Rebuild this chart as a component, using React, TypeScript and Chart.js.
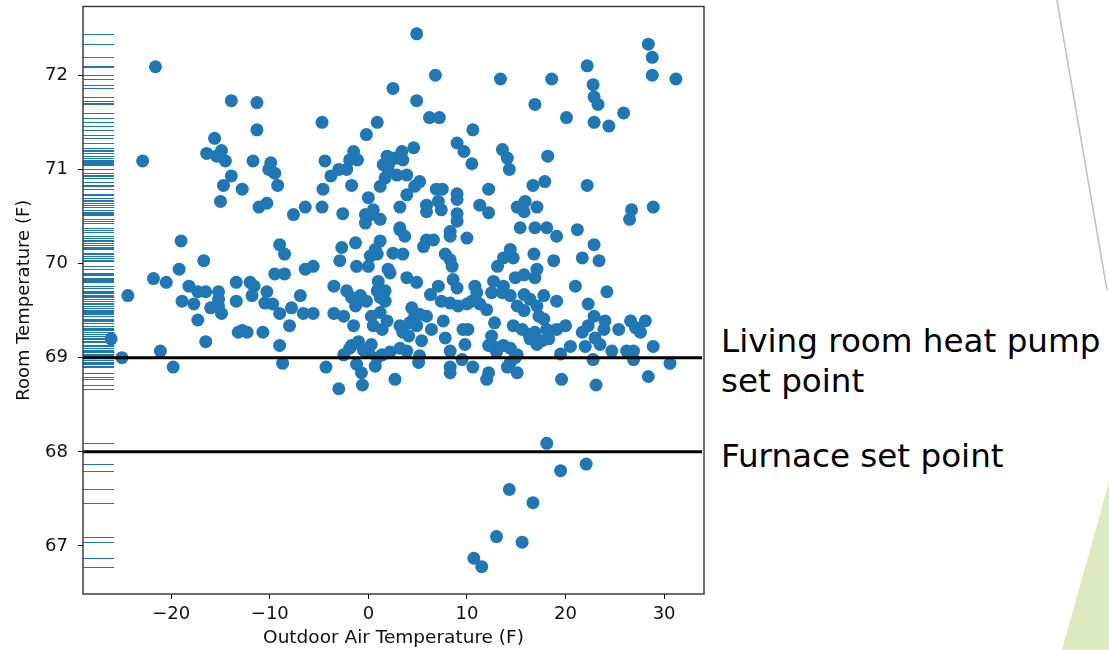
import React, { useEffect, useRef } from "react";
import { Chart, registerables } from "chart.js";

Chart.register(...registerables);

// ---------- data ----------
const X_TITLE = "Outdoor Air Temperature (F)";
const Y_TITLE = "Room Temperature (F)";
const X_TICKS = [-20, -10, 0, 10, 20, 30];
const Y_TICKS = [67, 68, 69, 70, 71, 72];
const X_LIMITS = [-28.95, 34.05];
const Y_LIMITS = [66.49, 72.73];
const SET_POINTS = [69, 68];
const SET_POINT_LABELS = [["Living room heat pump", "set point"], ["Furnace set point"]];

// [outdoor air temperature, room temperature]
const READINGS_COLD: number[][] = [
  [-26.1, 69.2], [-25.0, 69.0], [-24.4, 69.66], [-22.9, 71.09], [-21.6, 72.09], [-21.8, 69.84], [-21.1, 69.07], [-20.5, 69.8], [-19.8, 68.9], [-19.0, 70.24],
  [-19.2, 69.94], [-18.2, 69.76], [-18.9, 69.6], [-17.7, 69.57], [-17.3, 69.7], [-16.5, 69.7], [-15.2, 69.7], [-15.2, 69.62], [-15.2, 69.55], [-16.0, 69.53],
  [-14.9, 69.47], [-17.3, 69.4], [-16.7, 70.03], [-16.5, 69.17], [-13.4, 69.8], [-13.4, 69.6], [-12.0, 69.8], [-11.6, 69.76], [-11.8, 69.66], [-10.3, 69.7],
  [-10.5, 69.58], [-9.7, 69.57], [-9.0, 69.47], [-9.0, 70.2], [-8.5, 70.1], [-9.5, 69.89], [-8.5, 69.89], [-7.8, 69.53], [-8.0, 69.34], [-9.0, 69.13],
  [-8.7, 68.94], [-13.2, 69.27], [-12.8, 69.29], [-12.3, 69.27], [-10.7, 69.27], [-13.9, 71.73], [-11.3, 71.71], [-11.3, 71.42], [-15.6, 71.33], [-16.4, 71.17],
  [-14.9, 71.2], [-15.4, 71.14], [-14.5, 71.09], [-11.7, 71.09], [-9.9, 71.07], [-10.1, 71.0], [-9.5, 70.96], [-13.9, 70.93], [-14.7, 70.83], [-12.8, 70.79],
  [-9.2, 70.83], [-15.0, 70.66], [-11.1, 70.6], [-10.3, 70.64], [-7.6, 70.52],
];

const READINGS_MILD: number[][] = [
  [-6.4, 70.6], [-4.7, 70.6], [-4.7, 71.5], [-4.4, 71.09], [-4.6, 70.79], [-3.8, 70.93], [-3.0, 71.0], [-2.2, 71.0], [-1.7, 70.83], [-2.6, 70.53],
  [-1.5, 71.19], [-1.1, 71.1], [-1.9, 71.1], [-0.2, 71.37], [-0.3, 70.52], [-0.3, 70.43], [0.0, 70.7], [4.9, 72.44], [6.8, 72.0], [2.5, 71.86],
  [4.9, 71.73], [6.2, 71.55], [7.2, 71.55], [10.6, 71.42], [0.9, 71.5], [4.6, 71.23], [9.0, 71.28], [9.7, 71.19], [10.5, 71.06], [1.9, 71.14],
  [1.5, 71.05], [2.2, 71.08], [2.7, 71.12], [3.4, 71.19], [3.5, 71.1], [2.0, 71.0], [2.9, 70.94], [1.7, 70.91], [3.9, 70.94], [1.2, 70.82],
  [0.5, 70.57], [1.2, 70.47], [3.2, 70.6], [3.9, 70.73], [4.7, 70.82], [5.2, 70.87], [3.2, 70.38], [0.3, 70.52], [6.9, 70.79], [7.5, 70.79],
  [7.1, 70.66], [7.4, 70.57], [5.9, 70.62], [5.9, 70.55], [9.0, 70.74], [9.0, 70.68], [9.0, 70.53], [9.0, 70.45], [8.3, 70.34], [12.2, 70.79],
  [11.3, 70.62], [12.2, 70.54], [-1.3, 70.22], [-2.7, 70.17], [-2.9, 70.03], [1.2, 70.24], [0.7, 70.15], [0.2, 70.08], [0.9, 70.1], [2.5, 70.11],
  [3.5, 70.1], [3.2, 70.36], [3.7, 70.29], [5.9, 70.25], [6.6, 70.25], [5.6, 70.18], [8.3, 70.29], [10.0, 70.27], [7.8, 70.1], [8.3, 70.04],
  [8.5, 69.97], [-1.2, 69.97], [0.0, 69.97], [2.0, 69.94], [2.2, 69.9], [3.9, 69.85], [4.9, 69.8], [-6.4, 69.94], [-5.6, 69.97], [-3.5, 69.76],
  [-6.9, 69.66], [-6.6, 69.47], [-5.6, 69.47], [-2.2, 69.71], [-1.7, 69.64], [-0.8, 69.66], [-1.3, 69.55], [-0.2, 69.6], [-3.5, 69.47], [-2.5, 69.44],
  [-1.5, 69.34], [1.0, 69.81], [0.9, 69.71], [1.7, 69.71], [1.7, 69.6], [1.2, 69.64], [0.3, 69.44], [1.2, 69.48], [1.9, 69.39], [0.5, 69.34],
  [1.4, 69.3], [3.2, 69.34], [3.5, 69.27], [4.2, 69.37], [4.1, 69.23], [4.9, 69.34], [5.4, 69.18], [4.4, 69.53], [5.2, 69.46], [5.9, 69.44],
  [4.7, 69.44], [6.4, 69.3], [6.3, 69.67], [7.1, 69.76], [7.4, 69.6], [7.6, 69.39], [7.8, 69.21], [8.3, 69.07], [8.6, 69.83], [9.0, 69.74],
  [8.3, 69.58], [9.1, 69.55], [10.0, 69.57], [9.6, 69.3], [10.1, 69.3], [9.8, 69.14], [10.8, 69.76], [11.0, 69.69], [10.5, 69.6], [11.3, 69.57],
  [12.0, 69.51], [12.7, 69.81], [12.5, 69.69], [12.8, 69.37], [12.5, 69.23], [12.2, 69.13], [13.1, 69.97], [-4.3, 68.9], [-3.0, 68.67], [-2.5, 69.03],
  [-1.7, 69.13], [-1.0, 69.17], [-0.5, 69.08], [-1.2, 68.93], [-0.7, 68.84], [-0.6, 68.71], [0.7, 68.91], [0.9, 69.0], [1.4, 69.03], [2.2, 69.06],
  [0.0, 69.07], [0.3, 69.14], [2.7, 68.77], [5.1, 68.95], [5.2, 69.02], [3.2, 69.1], [3.9, 69.07], [8.3, 68.9], [8.3, 68.84], [9.5, 68.98],
  [10.6, 68.9], [12.2, 68.84], [12.0, 68.77], [12.7, 69.12], [-1.9, 69.1],
];

const READINGS_WARM: number[][] = [
  [13.4, 71.96], [13.6, 71.21], [18.6, 71.96], [22.2, 72.1], [22.8, 71.9], [22.9, 71.77], [23.3, 71.69], [28.4, 72.33], [28.8, 72.19], [28.8, 72.0],
  [31.2, 71.96], [16.9, 71.69], [20.1, 71.55], [22.9, 71.5], [24.4, 71.46], [25.9, 71.6], [14.1, 71.12], [14.3, 71.0], [18.2, 71.14], [16.7, 70.83],
  [17.9, 70.87], [22.2, 70.83], [15.1, 70.6], [15.9, 70.66], [15.8, 70.55], [17.1, 70.6], [26.7, 70.57], [26.5, 70.47], [28.9, 70.6], [15.4, 70.38],
  [16.9, 70.38], [18.1, 70.38], [21.2, 70.36], [19.1, 70.29], [22.9, 70.2], [14.4, 70.15], [13.7, 70.06], [14.7, 70.06], [16.8, 70.1], [18.8, 70.03],
  [21.7, 70.06], [23.4, 70.03], [17.1, 69.94], [16.9, 69.85], [15.8, 69.88], [14.9, 69.85], [13.7, 69.76], [13.6, 69.69], [14.4, 69.66], [15.8, 69.67],
  [16.4, 69.62], [17.8, 69.66], [21.0, 69.76], [24.2, 69.7], [19.1, 69.6], [15.1, 69.55], [15.8, 69.5], [17.1, 69.55], [17.3, 69.44], [17.8, 69.41],
  [14.7, 69.34], [15.6, 69.3], [16.3, 69.25], [16.9, 69.27], [18.1, 69.3], [18.3, 69.2], [17.6, 69.18], [20.0, 69.34], [19.1, 69.3], [22.3, 69.57],
  [22.9, 69.44], [24.0, 69.39], [21.7, 69.27], [22.3, 69.34], [23.9, 69.3], [23.0, 69.21], [23.5, 69.14], [25.4, 69.3], [26.6, 69.39], [28.1, 69.39],
  [27.1, 69.32], [27.6, 69.27], [28.9, 69.12], [20.5, 69.12], [22.0, 69.12], [24.7, 69.07], [26.2, 69.07], [26.9, 69.07], [26.9, 68.98], [22.8, 68.98],
  [19.5, 69.04], [30.6, 68.94], [28.4, 68.8], [19.6, 68.77], [23.1, 68.71], [13.0, 69.06], [13.7, 69.13], [14.4, 69.1], [15.1, 69.03], [14.4, 68.95],
  [14.1, 68.9], [15.1, 68.84], [14.9, 69.0], [17.1, 69.14], [16.4, 69.2], [18.1, 68.09], [19.5, 67.8], [22.1, 67.87], [14.3, 67.6], [16.7, 67.46],
  [13.0, 67.1], [15.6, 67.04], [10.7, 66.87], [11.5, 66.78],
];

// ---------- styles ----------
const BLUE = "#1f77b4";
const AXIS_FONT = "'DejaVu Sans', sans-serif";

const overlayPlugin = {
  id: "overlay",
  beforeDatasetsDraw(chart: any) {
    const { ctx, chartArea, scales } = chart;
    const pts = chart.data.datasets[0].data as { x: number; y: number }[];
    const len = (chartArea.right - chartArea.left) * 0.05;
    ctx.save();
    ctx.strokeStyle = BLUE;
    ctx.lineWidth = 1;
    for (const p of pts) {
      const py = Math.round(scales.y.getPixelForValue(p.y)) + 0.5;
      ctx.beginPath();
      ctx.moveTo(chartArea.left, py);
      ctx.lineTo(chartArea.left + len, py);
      ctx.stroke();
    }
    ctx.restore();
  },
  afterDatasetsDraw(chart: any) {
    const { ctx, chartArea, scales } = chart;
    ctx.save();
    ctx.strokeStyle = "#000";
    ctx.lineWidth = 3;
    for (const v of SET_POINTS) {
      const py = scales.y.getPixelForValue(v);
      ctx.beginPath();
      ctx.moveTo(chartArea.left, py);
      ctx.lineTo(chartArea.right - 2, py);
      ctx.stroke();
    }
    ctx.restore();
  },
  afterDraw(chart: any) {
    const { ctx, chartArea } = chart;
    ctx.save();
    ctx.strokeStyle = "#333";
    ctx.lineWidth = 1.4;
    ctx.strokeRect(chartArea.left, chartArea.top, chartArea.right - chartArea.left, chartArea.bottom - chartArea.top);
    ctx.restore();
  },
};

export default function App() {
  const ref = useRef<HTMLCanvasElement | null>(null);

  useEffect(() => {
    if (!ref.current) return;
    const all = [...READINGS_COLD, ...READINGS_MILD, ...READINGS_WARM];
    const chart = new Chart(ref.current, {
      type: "scatter",
      data: {
        datasets: [
          {
            data: all.map(([x, y]) => ({ x, y })),
            backgroundColor: BLUE,
            borderColor: BLUE,
            borderWidth: 0,
            pointRadius: 6.5,
            pointHoverRadius: 6.5,
          },
        ],
      },
      options: {
        animation: false,
        responsive: false,
        maintainAspectRatio: false,
        events: [],
        layout: { padding: { top: 5, right: 16, left: 0, bottom: 0 } },
        plugins: { legend: { display: false }, tooltip: { enabled: false } },
        scales: {
          x: {
            type: "linear",
            min: X_LIMITS[0],
            max: X_LIMITS[1],
            afterBuildTicks: (s: any) => {
              s.ticks = X_TICKS.map((v) => ({ value: v }));
            },
            afterFit: (s: any) => {
              s.height = 56;
              s.paddingLeft = 0;
              s.paddingRight = 0;
            },
            grid: { drawOnChartArea: false, drawTicks: true, tickLength: 5, color: "#000", lineWidth: 1 },
            border: { display: false },
            ticks: {
              padding: 5,
              color: "#111",
              font: { family: AXIS_FONT, size: 18 },
              callback: (v: any) => (v < 0 ? "\u2212" + Math.abs(v) : String(v)),
            },
            title: {
              display: true,
              text: X_TITLE,
              color: "#111",
              font: { family: AXIS_FONT, size: 18.5 },
              padding: { top: 0, bottom: 1 },
            },
          },
          y: {
            type: "linear",
            min: Y_LIMITS[0],
            max: Y_LIMITS[1],
            afterBuildTicks: (s: any) => {
              s.ticks = Y_TICKS.map((v) => ({ value: v }));
            },
            afterFit: (s: any) => {
              s.width = 83;
              s.paddingTop = 0;
              s.paddingBottom = 0;
            },
            grid: { drawOnChartArea: false, drawTicks: true, tickLength: 5, color: "#000", lineWidth: 1 },
            border: { display: false },
            ticks: {
              padding: 10,
              color: "#111",
              font: { family: AXIS_FONT, size: 18 },
              callback: (v: any) => String(v),
            },
            title: {
              display: true,
              text: Y_TITLE,
              color: "#111",
              font: { family: AXIS_FONT, size: 18 },
              padding: { top: 14, bottom: 0 },
            },
          },
        },
      },
      plugins: [overlayPlugin],
    } as any);
    return () => chart.destroy();
  }, []);

  const labelStyle: React.CSSProperties = {
    position: "absolute",
    left: 721,
    fontFamily: "'DejaVu Sans', sans-serif",
    fontSize: 32.6,
    lineHeight: "40px",
    color: "#000",
    whiteSpace: "nowrap",
  };

  return (
    <div style={{ position: "absolute", left: 0, top: 0, width: 1109, height: 650, background: "#fff", overflow: "hidden" }}>
      <canvas ref={ref} width={720} height={650} style={{ position: "absolute", left: 0, top: 0 }} />
      <div style={{ ...labelStyle, top: 321 }}>
        {SET_POINT_LABELS[0].map((t) => (
          <div key={t}>{t}</div>
        ))}
      </div>
      <div style={{ ...labelStyle, top: 436 }}>
        {SET_POINT_LABELS[1].map((t) => (
          <div key={t}>{t}</div>
        ))}
      </div>
      <svg width={1109} height={650} style={{ position: "absolute", left: 0, top: 0, pointerEvents: "none" }}>
        <line x1={1057} y1={0} x2={1107} y2={290} stroke="#c0c0c0" strokeWidth={1.5} />
        <polygon points="1062,650 1109,482 1109,650" fill="#dce9c1" />
      </svg>
    </div>
  );
}
